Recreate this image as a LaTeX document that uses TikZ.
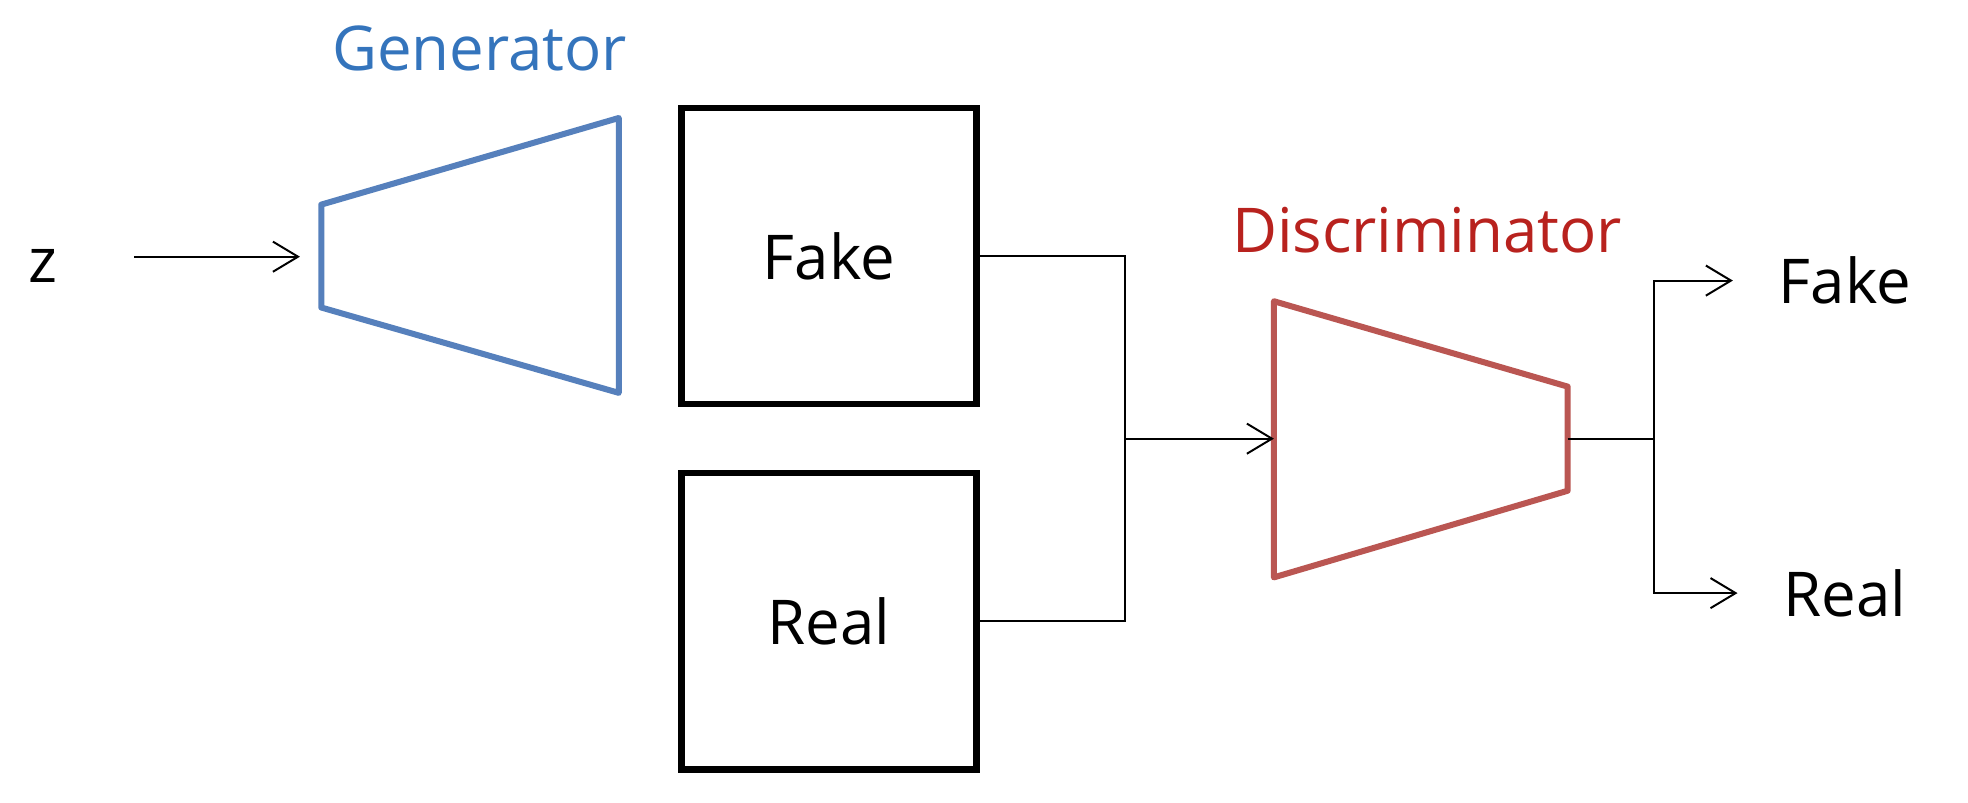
\documentclass[tikz,border=0pt]{standalone}
\usepackage{fontspec}
\setmainfont{Open Sans}
\usetikzlibrary{positioning}
\usetikzlibrary{arrows.meta}
\tikzstyle{diagram} = [x = .1mm, y = -.1mm]
\definecolor{genColor}{RGB}{86,128,188}
\definecolor{genTextColor}{RGB}{52,116,188}
\definecolor{discColor}{RGB}{186,86,82}
\definecolor{discTextColor}{RGB}{184,34,30}
\newcommand{\labelFont}{\fontsize{14}{17}\selectfont}
\tikzstyle{sampleBox} = [draw, line width = .5mm, minimum width = 23.5mm, minimum height = 23.6mm, font = \labelFont]
\tikzstyle{labelText} = [font = \labelFont, inner sep = 0pt, anchor = base]
\tikzstyle{netShape} = [line width = .48mm, line join = round]
\tikzstyle{wire} = [line width = .45pt]
\tikzstyle{wireArrow} = [wire, -{Straight Barb[length = 2mm, width = 2.4mm]}]
\newcommand{\netTrapezoid}[7]{\draw [netShape, #1] (#2, #4) -- (#3, #6) -- (#3, #7) -- (#2, #5) -- cycle;}

\begin{document}
\begin{tikzpicture}[diagram]
  \useasboundingbox (0,0) rectangle (1568,639);

  % generator
  \netTrapezoid{genColor}{256}{493}{163}{245}{94}{313}
  \coordinate (genIn) at (256,204.5);
  \node [labelText, text = genTextColor] (genLabel) at (382,56) {Generator};
  \node [labelText] (z) at (34.5,225) {z};
  \coordinate (zOut) at (107,204.5);
  \draw [wireArrow, shorten >= 1.7mm] (zOut) -- (genIn);

  % samples
  \node [sampleBox] (fakeBox) at (660.5,204) {Fake};
  \node [sampleBox] (realBox) at (660.5,495) {Real};
  \coordinate (junction) at (896,349.5);
  \draw [wire] (fakeBox.east) -| (junction) |- (realBox.east);

  % discriminator
  \netTrapezoid{discColor}{1015}{1249}{240}{460}{308}{391}
  \coordinate (discIn) at (1015,349.5);
  \coordinate (discOut) at (1249,349.5);
  \node [labelText, text = discTextColor] (discLabel) at (1137,201) {Discriminator};
  \draw [wireArrow] (junction) -- (discIn);

  % outputs
  \node [labelText] (fakeOut) at (1470,242) {Fake};
  \node [labelText] (realOut) at (1470,491) {Real};
  \coordinate (split) at (1318,349.5);
  \draw [wire] (discOut) -- (split);
  \foreach \outName in {fakeOut, realOut} {
    \draw [wireArrow, shorten >= 3.6mm] (split) |- (\outName);
  }
\end{tikzpicture}
\end{document}
